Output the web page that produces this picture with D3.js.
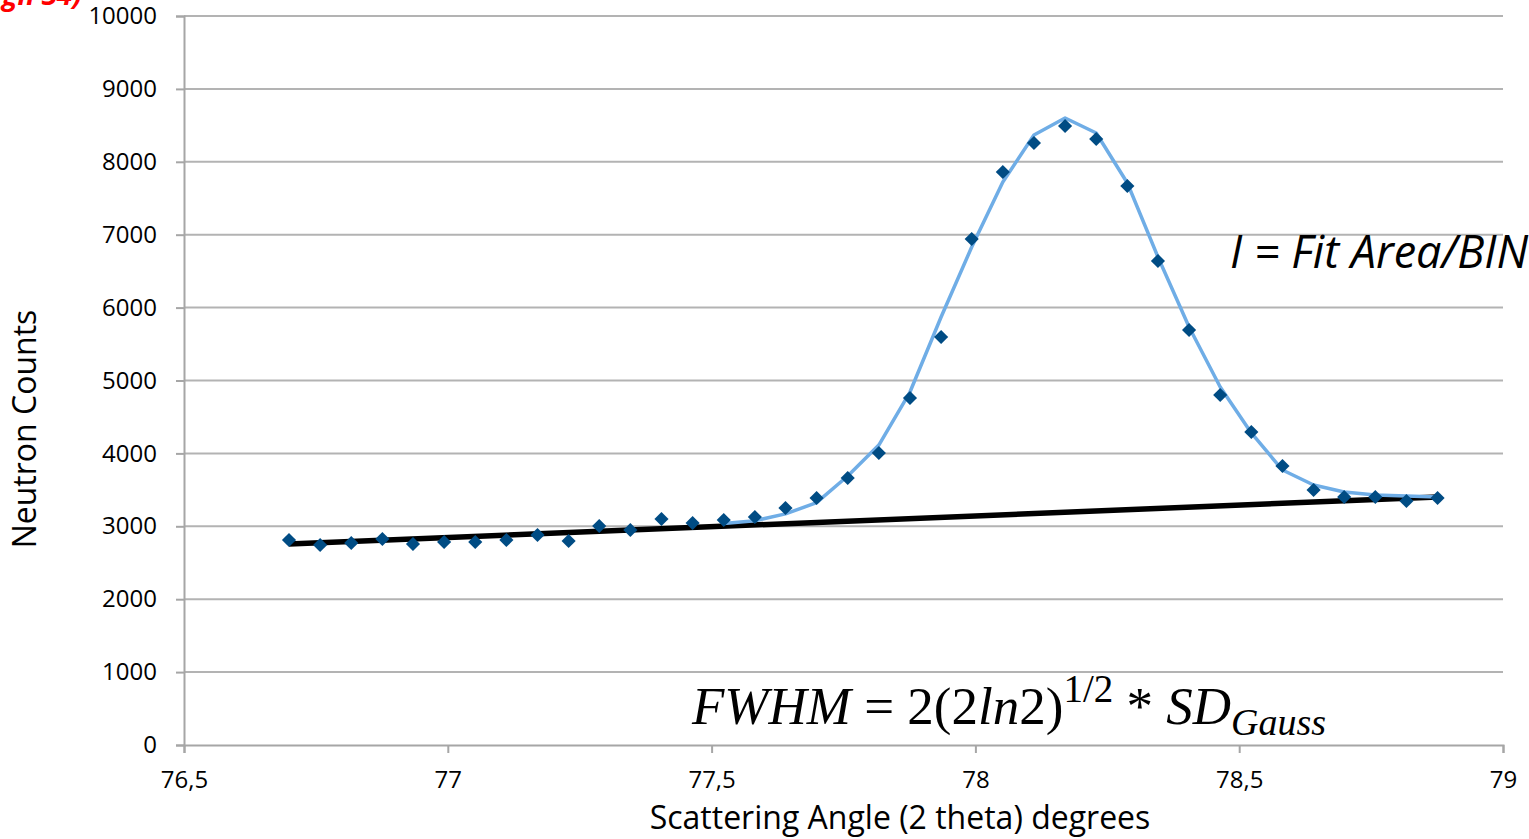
<!DOCTYPE html>
<html>
<head>
<meta charset="utf-8">
<script src="https://cdn.jsdelivr.net/npm/d3@7"></script>
<style>
  body { margin: 0; background: #fff; }
  svg { display: block; }
  .tick text { font-family: "Open Sans", sans-serif; font-size: 24px; fill: #000; }
  .axis-title { font-family: "Open Sans", sans-serif; fill: #000; }
</style>
</head>
<body>
<div id="chart"></div>
<script>
var width = 1529, height = 839;

// measured angles (2 theta, degrees)
var angles = [76.699, 76.758, 76.817, 76.876, 76.934, 76.993, 77.052, 77.111, 77.170, 77.229,
              77.287, 77.346, 77.405, 77.464, 77.523, 77.582, 77.640, 77.699, 77.758, 77.817,
              77.876, 77.935, 77.993, 78.052, 78.111, 78.170, 78.229, 78.288, 78.346, 78.405,
              78.464, 78.523, 78.582, 78.641, 78.699, 78.758, 78.817, 78.876];

// neutron counts
var counts = [2812, 2743, 2771, 2826, 2757, 2785, 2785, 2812, 2881, 2798,
              3004, 2949, 3100, 3045, 3086, 3128, 3251, 3388, 3663, 4005,
              4760, 5597, 6941, 7860, 8258, 8491, 8313, 7668, 6639, 5693,
              4801, 4294, 3827, 3498, 3402, 3402, 3347, 3388];

// gaussian fit, starts at angles[14]
var fitStart = 14;
var fitCounts = [3040, 3077, 3170, 3324, 3690, 4115, 4842, 5871, 6831, 7723,
                 8368, 8601, 8395, 7709, 6694, 5734, 4911, 4280, 3772, 3566,
                 3470, 3429, 3415, 3402];

// linear background
var bgAngles = [76.699, 78.876];
var bgCounts = [2757, 3402];

var xTicks = [76.5, 77, 77.5, 78, 78.5, 79];
var yTicks = [0, 1000, 2000, 3000, 4000, 5000, 6000, 7000, 8000, 9000, 10000];

var svg = d3.select("#chart").append("svg").attr("width", width).attr("height", height);

var x = d3.scaleLinear().domain([76.5, 79]).range([184, 1503]);
var y = d3.scaleLinear().domain([0, 10000]).range([745, 16]);

// gridlines
svg.append("g").selectAll("line")
  .data(yTicks.slice(1))
  .enter().append("line")
  .attr("x1", 184).attr("x2", 1503)
  .attr("y1", d => y(d)).attr("y2", d => y(d))
  .attr("stroke", "#b3b3b3").attr("stroke-width", 2);

var fmt = d => String(d).replace(".", ",");

var xAxis = svg.append("g")
  .attr("transform", "translate(0," + y(0) + ")")
  .call(d3.axisBottom(x).tickValues(xTicks).tickFormat(fmt).tickSize(8).tickPadding(18));
var yAxis = svg.append("g")
  .attr("transform", "translate(" + x(76.5) + ",0)")
  .call(d3.axisLeft(y).tickValues(yTicks).tickFormat(d => String(d)).tickSize(8).tickPadding(19));

[xAxis, yAxis].forEach(function(a) {
  a.select(".domain").attr("stroke", "#a6a6a6").attr("stroke-width", 2);
  a.selectAll(".tick line").attr("stroke", "#a6a6a6").attr("stroke-width", 2);
});

// background line
var line = d3.line().x(d => x(d[0])).y(d => y(d[1]));
svg.append("path")
  .datum(bgAngles.map((a, i) => [a, bgCounts[i]]))
  .attr("d", line)
  .attr("fill", "none").attr("stroke", "#000").attr("stroke-width", 5.5);

// fit line
svg.append("path")
  .datum(fitCounts.map((c, i) => [angles[fitStart + i], c]))
  .attr("d", line)
  .attr("fill", "none").attr("stroke", "#6fade6").attr("stroke-width", 3.5)
  .attr("stroke-linejoin", "round");

// data markers
svg.append("g").selectAll("path")
  .data(angles.map((a, i) => [a, counts[i]]))
  .enter().append("path")
  .attr("d", d3.symbol(d3.symbolSquare, 100))
  .attr("transform", d => "translate(" + x(d[0]) + "," + y(d[1]) + ") rotate(45)")
  .attr("fill", "#004c84");

// axis titles
svg.append("text").attr("class", "axis-title")
  .attr("x", 900).attr("y", 829).attr("text-anchor", "middle")
  .style("font-size", "32px")
  .text("Scattering Angle (2 theta) degrees");
svg.append("text").attr("class", "axis-title")
  .attr("transform", "translate(36,429) rotate(-90)")
  .attr("text-anchor", "middle")
  .style("font-size", "32px")
  .text("Neutron Counts");

// annotations (red note, cut by the top edge as in the source)
svg.append("text")
  .attr("x", 82).attr("y", 5).attr("text-anchor", "end")
  .style("font-family", "Open Sans, sans-serif").style("font-size", "28px")
  .style("font-style", "italic").style("font-weight", "bold").attr("fill", "#ff0000")
  .text("gh 34)");

svg.append("text")
  .attr("x", 1230).attr("y", 268)
  .style("font-family", "Open Sans, sans-serif").style("font-size", "45px")
  .style("font-style", "italic").attr("fill", "#000")
  .text("I = Fit Area/BIN");

var f = svg.append("text")
  .attr("x", 692).attr("y", 724)
  .style("font-family", "Liberation Serif, serif").style("font-size", "53px").attr("fill", "#000");
f.append("tspan").style("font-style", "italic").text("FWHM");
f.append("tspan").text(" = 2(2");
f.append("tspan").style("font-style", "italic").text("ln");
f.append("tspan").text("2)");
f.append("tspan").attr("dy", -22).style("font-size", "39px").text("1/2");
f.append("tspan").attr("dy", 22).text(" * ");
f.append("tspan").style("font-style", "italic").text("SD");
f.append("tspan").attr("dy", 11).style("font-size", "38px").style("font-style", "italic").text("Gauss");
</script>
</body>
</html>
